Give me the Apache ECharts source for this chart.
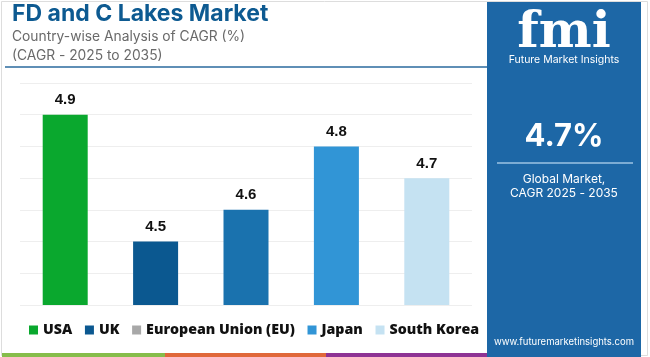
<!DOCTYPE html>
<html><head><meta charset="utf-8">
<script src="https://cdn.jsdelivr.net/npm/echarts@6/dist/echarts.min.js"></script>
<style>html,body{margin:0;padding:0;background:#fff}#c{width:650px;height:357px}</style>
</head><body><div id="c"></div>
<script>
const categories = ['USA', 'UK', 'European Union (EU)', 'Japan', 'South Korea'];
const values = [4.9, 4.5, 4.6, 4.8, 4.7];
const barColors = ['#0aa82e', '#0b5890', '#1a72ae', '#3195d6', '#c5e2f2'];
const legendColors = ['#0aa82e', '#0b5890', '#a8a8a8', '#3195d6', '#c5e2f2'];
const yTicks = [4.3, 4.4, 4.5, 4.6, 4.7, 4.8, 4.9, 5.0];

const font = 'Inter, "Noto Sans", sans-serif';
const chart = echarts.init(document.getElementById('c'), null, {renderer: 'canvas'});

const series = categories.map((name, i) => ({
  name: name,
  type: 'bar',
  barWidth: 45,
  barGap: '-100%',
  data: categories.map((c, j) => j === i ? values[i] : null),
  itemStyle: {color: barColors[i]},
  label: {show: true, position: 'top', distance: 7, color: '#111', fontFamily: 'Arial, "Liberation Sans", sans-serif', fontWeight: 'bold', fontSize: 15},
  silent: true
}));

chart.setOption({
  animation: false,
  backgroundColor: '#fff',
  grid: {left: 20, right: 178, top: 83, bottom: 52, containLabel: false},
  xAxis: {type: 'category', data: categories, axisLine: {show: false}, axisTick: {show: false}, axisLabel: {show: false}},
  yAxis: {type: 'value', min: yTicks[0], max: yTicks[yTicks.length - 1], interval: 0.1, axisLabel: {show: false}, axisLine: {show: false}, axisTick: {show: false},
    splitLine: {lineStyle: {color: '#eeeeee', width: 1}}},
  legend: {
    left: 24, top: 318, itemWidth: 9, itemHeight: 9, itemGap: 12.7, icon: 'rect',
    textStyle: {fontFamily: '"Open Sans", sans-serif', fontWeight: 800, fontSize: 14.2, color: '#111', padding: [0, 0, 0, 0]},
    data: categories.map((n, i) => ({name: n, itemStyle: {color: legendColors[i]}}))
  },
  series: series,
  graphic: [
    {type: 'rect', shape: {x: 1.5, y: 1.5, width: 646, height: 354}, style: {fill: 'none', stroke: '#dddddd', lineWidth: 1}, silent: true},
    {type: 'text', left: 12, top: 3, style: {text: 'FD and C Lakes Market', fontFamily: font, fontWeight: 'bold', fontSize: 23, fill: '#0d5a91'}},
    {type: 'text', left: 12, top: 30, style: {text: 'Country-wise Analysis of CAGR (%)', fontFamily: font, fontSize: 13.8, fill: '#6a6a6a'}},
    {type: 'text', left: 12, top: 49, style: {text: '(CAGR - 2025 to 2035)', fontFamily: font, fontSize: 13.8, fill: '#6a6a6a'}},
    {type: 'line', shape: {x1: 5, y1: 67, x2: 487, y2: 67}, style: {stroke: '#2a6a9e', lineWidth: 1.5}},
    {type: 'rect', shape: {x: 487, y: 2, width: 154, height: 355}, style: {fill: '#1d67a6'}},
    {type: 'text', x: 564, y: 34, style: {text: 'fmi', fontFamily: '"DejaVu Serif", serif', fontWeight: 'bold', fontSize: 50, fill: '#ffffff', textAlign: 'center', textVerticalAlign: 'middle'}},
    {type: 'text', x: 564, y: 60, style: {text: 'Future Market Insights', fontFamily: font, fontSize: 10.5, fill: '#ffffff', textAlign: 'center', textVerticalAlign: 'middle'}},
    {type: 'text', x: 564, y: 137, style: {text: '4.7%', fontFamily: font, fontWeight: 'bold', fontSize: 31, fill: '#ffffff', textAlign: 'center', textVerticalAlign: 'middle'}},
    {type: 'line', shape: {x1: 497, y1: 163, x2: 633, y2: 163}, style: {stroke: '#9cc3e3', lineWidth: 1.5}},
    {type: 'text', x: 564, y: 179, style: {text: 'Global Market,', fontFamily: font, fontSize: 12, fill: '#ffffff', textAlign: 'center', textVerticalAlign: 'middle'}},
    {type: 'text', x: 564, y: 193, style: {text: 'CAGR 2025 - 2035', fontFamily: font, fontSize: 12, fill: '#ffffff', textAlign: 'center', textVerticalAlign: 'middle'}},
    {type: 'text', x: 564, y: 342, style: {text: 'www.futuremarketinsights.com', fontFamily: font, fontSize: 9.5, fill: '#ffffff', textAlign: 'center', textVerticalAlign: 'middle'}},
    {type: 'rect', shape: {x: 2, y: 353, width: 163, height: 4}, style: {fill: '#86bd4b'}},
    {type: 'rect', shape: {x: 165, y: 353, width: 161, height: 4}, style: {fill: '#e0683a'}},
    {type: 'rect', shape: {x: 326, y: 353, width: 161, height: 4}, style: {fill: '#8e3394'}}
  ]
});
</script></body></html>
